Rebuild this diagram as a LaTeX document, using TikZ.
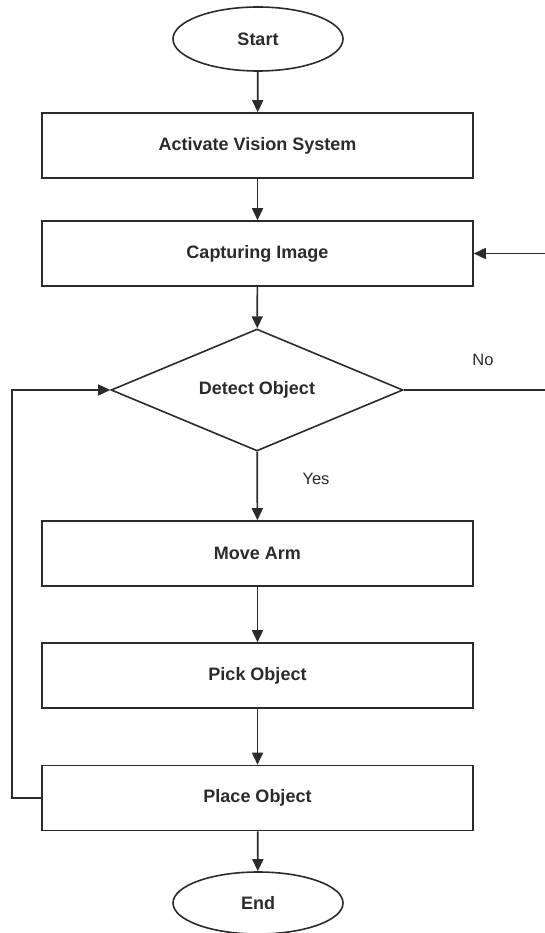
\documentclass[tikz,border=0pt]{standalone}
\usepackage{fontspec}
\setmainfont{Liberation Sans}
\usetikzlibrary{shapes.geometric,arrows.meta}
\definecolor{ink}{HTML}{2B2B2B}
\begin{document}
\begin{tikzpicture}[x=1pt,y=-1pt,
  every node/.style={font=\fontsize{18}{21}\selectfont\bfseries, text=ink},
  procbox/.style={draw=ink, line width=1.6pt, minimum width=431pt, minimum height=65pt, inner sep=0pt},
  term/.style={draw=ink, line width=1.6pt, ellipse, minimum width=170pt, minimum height=64pt, inner sep=0pt},
  decis/.style={draw=ink, line width=1.6pt, diamond, aspect=2.39, minimum width=292pt, minimum height=122pt, inner sep=0pt},
  flow/.style={draw=ink, line width=1.7pt, -{Triangle[length=12pt,width=11pt]}},
  plain/.style={draw=ink, line width=1.6pt},
  lbl/.style={font=\fontsize{16.5}{19}\selectfont, text=ink}]
\useasboundingbox (0,0) rectangle (545,933);
\node[term] (start) at (258,39) {Start};
\node[procbox] (act) at (257.5,145.5) {Activate Vision System};
\node[procbox] (cap) at (257.5,253.5) {Capturing Image};
\node[decis] (det) at (257,390) {Detect Object};
\node[procbox] (move) at (257.5,553.5) {Move Arm};
\node[procbox] (pick) at (257.5,675.5) {Pick Object};
\node[procbox] (place) at (257.5,798) {Place Object};
\node[term, minimum height=62pt] (end) at (258,903) {End};
\coordinate (re1) at (546,390);
\coordinate (re2) at (546,253.5);
\coordinate (le1) at (12,798);
\coordinate (le2) at (12,390);
\draw[flow] (start) -- (act);
\draw[flow] (act) -- (cap);
\draw[flow] (cap) -- (det);
\draw[flow] (det) -- (move);
\draw[flow] (move) -- (pick);
\draw[flow] (pick) -- (place);
\draw[flow] (place) -- (end);
\draw[plain] (det.east) -- (re1);
\draw[flow] (re2) -- (cap.east);
\draw[flow] (place.west) -- (le1) -- (le2) -- (det.west);
\node[lbl] (no) at (483,360) {No};
\node[lbl] (yes) at (316,479) {Yes};
\end{tikzpicture}
\end{document}
